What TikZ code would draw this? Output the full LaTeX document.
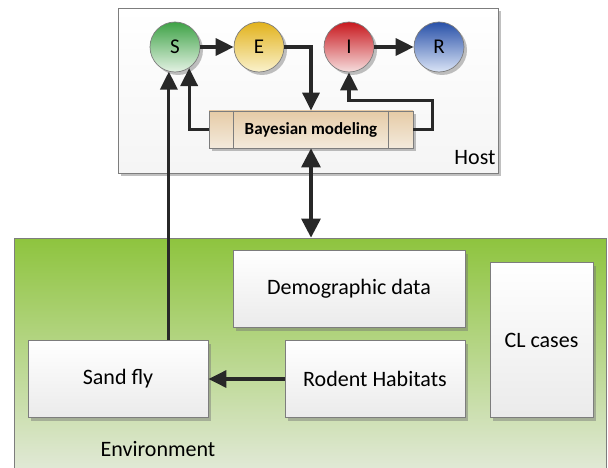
\documentclass[tikz,border=0pt]{standalone}
\usepackage{fontspec}
\setmainfont{Carlito}
\usetikzlibrary{arrows.meta,shadows,calc}

\definecolor{edgegray}{RGB}{125,125,125}
\definecolor{arrowgray}{RGB}{40,40,40}
\definecolor{sTop}{RGB}{62,162,70}
\definecolor{sBot}{RGB}{228,242,228}
\definecolor{eTop}{RGB}{226,178,28}
\definecolor{eBot}{RGB}{250,242,205}
\definecolor{iTop}{RGB}{200,24,30}
\definecolor{iBot}{RGB}{246,222,222}
\definecolor{rTop}{RGB}{40,80,168}
\definecolor{rBot}{RGB}{218,228,246}
\definecolor{bayTop}{RGB}{230,203,166}
\definecolor{bayBot}{RGB}{243,234,220}
\definecolor{envTop}{RGB}{142,196,62}
\definecolor{envBot}{RGB}{228,234,220}

\tikzset{
  shade/.style={drop shadow={shadow xshift=3pt,shadow yshift=-3pt,opacity=0.45,fill=black!55}},
  state/.style={circle,draw=edgegray,line width=0.7pt,minimum size=50pt,inner sep=0pt,
    font=\fontsize{21}{25}\selectfont,shade},
  databox/.style={rectangle,draw=edgegray,line width=0.8pt,top color=white,bottom color=black!8,
    font=\fontsize{22}{26}\selectfont,align=center,inner sep=0pt,shade},
  arr/.style={draw=arrowgray,line width=3.2pt,-{Triangle[length=18pt,width=17pt]}},
  arrboth/.style={draw=arrowgray,line width=3.2pt,{Triangle[length=19pt,width=19pt]}-{Triangle[length=19pt,width=19pt]}},
}

\begin{document}
\begin{tikzpicture}[x=1pt,y=-1pt]
\useasboundingbox (0,0) rectangle (608,468);
\begin{scope}
\clip (0,0) rectangle (608,468);

% environment panel
\node[rectangle,draw=edgegray,line width=0.8pt,top color=envTop,bottom color=envBot,
  minimum width=592pt,minimum height=240pt,inner sep=0pt] (env) at (310,358) {};
\node[font=\fontsize{22}{26}\selectfont] (envlabel) at (158,449) {Environment};

% host panel
\node[rectangle,draw=edgegray,line width=0.8pt,top color=white,bottom color=black!4,
  minimum width=380pt,minimum height=165pt,inner sep=0pt,shade] (host) at (308,90.5) {};
\node[font=\fontsize{22}{26}\selectfont] (hostlabel) at (475,158) {Host};

% compartments
\node[state,top color=sTop,bottom color=sBot] (S) at (175,47) {S};
\node[state,top color=eTop,bottom color=eBot] (E) at (259,47) {E};
\node[state,top color=iTop,bottom color=iBot] (I) at (349,47) {I};
\node[state,top color=rTop,bottom color=rBot] (R) at (439,47) {R};

% inference block
\node[rectangle,draw=edgegray,line width=0.8pt,top color=bayTop,bottom color=bayBot,
  minimum width=204pt,minimum height=37pt,inner sep=0pt,shade,
  font=\fontsize{17}{20}\selectfont\bfseries] (bay) at (311,129.5) {Bayesian modeling};
\draw[edgegray,line width=0.8pt] ([xshift=25pt]bay.north west) -- ([xshift=25pt]bay.south west);
\draw[edgegray,line width=0.8pt] ([xshift=-25pt]bay.north east) -- ([xshift=-25pt]bay.south east);

% data sources
\node[databox,minimum width=232pt,minimum height=77pt] (demo) at (349,289) {Demographic data};
\node[databox,minimum width=103pt,minimum height=155pt] (cl) at (541.5,340) {CL cases};
\node[databox,minimum width=180pt,minimum height=77pt] (sand) at (118,379) {Sand fly};
\node[databox,minimum width=180pt,minimum height=77pt] (rodent) at (375,379) {Rodent Habitats};

% connectors
\draw[arr] (S) -- (E);
\draw[arr] (I) -- (R);
\draw[arr] (E.east) -| (bay.north);
\coordinate (ielbow) at ($(bay.east)+(19,0)$);
\draw[arr] (bay.east) -- (ielbow) |- ($(I.south)+(0,28)$) -- (I.south);
\draw[arr] (bay.west) -| (S.-56);
\draw[arr] (S.-104 |- sand.north) -- (S.-104);
\draw[arr] (rodent.west) -- (sand.east);
\draw[arrboth] (bay.south) -- (bay.south |- env.north);
\end{scope}
\end{tikzpicture}
\end{document}
